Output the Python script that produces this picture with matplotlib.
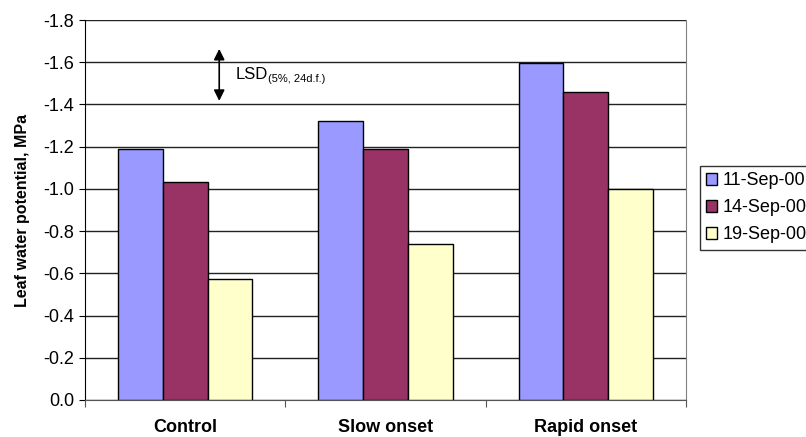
import numpy as np
import matplotlib.pyplot as plt

plt.rcParams['font.family'] = ['Liberation Sans', 'DejaVu Sans']

treatments = ['Control', 'Slow onset', 'Rapid onset']
dates = ['11-Sep-00', '14-Sep-00', '19-Sep-00']
sep11 = [-1.19, -1.32, -1.597]
sep14 = [-1.035, -1.19, -1.46]
sep19 = [-0.575, -0.74, -1.0]
yticks = [0.0, -0.2, -0.4, -0.6, -0.8, -1.0, -1.2, -1.4, -1.6, -1.8]
lsd_low, lsd_high = -1.417, -1.663

colors = ['#9999FF', '#993366', '#FFFFCC']

fig = plt.figure(figsize=(8.06, 4.37), dpi=100)
ax = fig.add_axes([85 / 806, 37 / 437, 601 / 806, 380 / 437])

x = np.arange(len(treatments))
w = 0.223
for i, (vals, lab) in enumerate(zip([sep11, sep14, sep19], dates)):
    ax.bar(x + (i - 1) * w, vals, w, color=colors[i], edgecolor='black',
           linewidth=1, label=lab, zorder=3)

ax.set_xlim(-0.5, 2.5)
ax.set_ylim(0, -1.8)
ax.set_yticks(yticks)
ax.set_yticklabels(['%.1f' % v for v in yticks], fontsize=13)
ax.yaxis.grid(True, color='#222222', linewidth=1, zorder=0)

# tick marks sit on the category boundaries, labels in the middle
ax.set_xticks([-0.5, 0.5, 1.5, 2.5])
ax.set_xticklabels([])
ax.set_xticks(x, minor=True)
ax.set_xticklabels(treatments, minor=True, fontsize=13, fontweight='bold')
ax.tick_params(axis='x', which='major', length=5, direction='out', color='#555555')
ax.tick_params(axis='x', which='minor', length=0, pad=14)
ax.tick_params(axis='y', length=4, direction='out', pad=4)

ax.spines['top'].set_visible(False)
ax.spines['right'].set_color('#808080')
ax.spines['bottom'].set_color('#555555')
ax.spines['left'].set_color('black')

ax.set_ylabel('Leaf water potential, MPa', fontsize=11.5, fontweight='bold', labelpad=9)

# LSD bar with its label and subscript
ax.annotate('', xy=(0.17, lsd_high), xytext=(0.17, lsd_low),
            arrowprops=dict(arrowstyle='<|-|>', color='black', lw=1.2,
                            mutation_scale=16, shrinkA=0, shrinkB=0))
lsd = ax.text(0.25, (lsd_low + lsd_high) / 2, 'LSD', fontsize=12,
              va='center', ha='left')
ax.annotate('(5%, 24d.f.)', xy=(1.0, 0.0), xycoords=lsd, xytext=(0.5, -1),
            textcoords='offset points', fontsize=8, va='bottom', ha='left')

leg = fig.legend(loc='upper left', bbox_to_anchor=(700 / 806, 1 - 166 / 437),
                 fontsize=13, frameon=True, fancybox=False, edgecolor='black',
                 handlelength=0.6, handleheight=0.6, handletextpad=0.3,
                 labelspacing=0.55, borderpad=0.35, borderaxespad=0)
leg.get_frame().set_linewidth(1)

fig.savefig('out.png', dpi=100)
